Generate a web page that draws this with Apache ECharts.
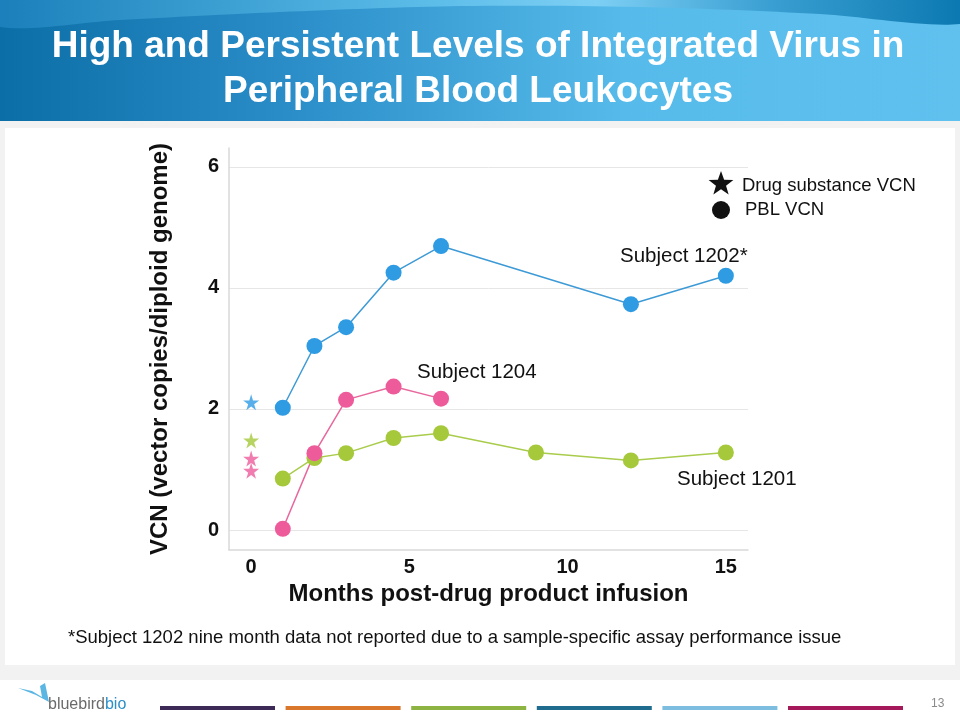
<!DOCTYPE html>
<html>
<head>
<meta charset="utf-8">
<script src="https://cdn.jsdelivr.net/npm/echarts@6/dist/echarts.min.js"></script>
<style>
html,body{margin:0;padding:0;background:#f2f2f2;}
#chart{width:960px;height:720px;}
</style>
</head>
<body>
<div id="chart"></div>
<script>
// ---- data ----
const months1202 = [1, 2, 3, 4.5, 6, 12, 15];
const vcn1202   = [2.02, 3.04, 3.35, 4.25, 4.69, 3.73, 4.20];
const months1204 = [1, 2, 3, 4.5, 6];
const vcn1204   = [0.02, 1.27, 2.15, 2.37, 2.17];
const months1201 = [1, 2, 3, 4.5, 6, 9, 12, 15];
const vcn1201   = [0.85, 1.19, 1.27, 1.52, 1.60, 1.28, 1.15, 1.28];
// drug substance VCN (month 0)
const dsMonths = [0, 0, 0, 0];
const dsVcn    = [2.11, 1.48, 1.18, 0.98];
const dsSubject = ['1202', '1201', '1204', '1204'];
const xTicks = [0, 5, 10, 15];
const yTicks = [0, 2, 4, 6];
const titleLines = ['High and Persistent Levels of Integrated Virus in', 'Peripheral Blood Leukocytes'];
const subjectLabels = ['Subject 1202*', 'Subject 1204', 'Subject 1201'];
const legendNames = ['Drug substance VCN', 'PBL VCN'];
const footnote = '*Subject 1202 nine month data not reported due to a sample-specific assay performance issue';

const colors = {'1202': '#2e9be3', '1204': '#ee5b9b', '1201': '#a5c93b'};
const lineColors = {'1202': '#3d9ad6', '1204': '#e8679d', '1201': '#a9cc4c'};
const STAR = 'path://M50,0 L61,35 L98,35 L68,57 L79,91 L50,70 L21,91 L32,57 L2,35 L39,35 Z';
const FONT = '"Liberation Sans", Arial, sans-serif';

function pairs(xs, ys){ return xs.map((x,i)=>[x, ys[i]]); }

function lineSeries(key, xs, ys){
  return {
    type: 'line', data: pairs(xs, ys), symbol: 'circle', symbolSize: 16,
    itemStyle: {color: colors[key]},
    lineStyle: {color: lineColors[key], width: 1.5},
    emphasis: {disabled: true}, z: 5
  };
}

function starPoints(cx, cy, R, r){
  const pts = [];
  for (let i = 0; i < 10; i++){
    const a = -Math.PI / 2 + i * Math.PI / 5;
    const rad = i % 2 === 0 ? R : r;
    pts.push([cx + rad * Math.cos(a), cy + rad * Math.sin(a)]);
  }
  return pts;
}

const chart = echarts.init(document.getElementById('chart'), null, {renderer: 'canvas'});

const footerColors = ['#3e2a56', '#d9782d', '#8db443', '#1f6c8f', '#7dbde0', '#a5195a'];
const footerBars = footerColors.map((c, i) => ({
  type: 'rect', shape: {x: 160 + i * 125.6, y: 706, width: 115, height: 4}, style: {fill: c}, silent: true
}));

const option = {
  animation: false,
  backgroundColor: '#f2f2f2',
  grid: {left: 229, right: 212, top: 148, bottom: 170},
  xAxis: {
    type: 'value', min: -0.7, max: 15.7,
    axisLine: {show: true, onZero: false, lineStyle: {color: '#d9d9d9', width: 1.5}},
    axisTick: {show: false},
    splitLine: {show: false},
    axisLabel: {customValues: xTicks, color: '#111', fontSize: 20, fontWeight: 'bold', fontFamily: FONT, margin: 7},
    name: 'Months post-drug product infusion', nameLocation: 'middle', nameGap: 28,
    nameTextStyle: {color: '#111', fontSize: 24, fontWeight: 'bold', fontFamily: FONT}
  },
  yAxis: {
    type: 'value', min: -0.33, max: 6.31,
    axisLine: {show: true, onZero: false, lineStyle: {color: '#d9d9d9', width: 1.5}},
    axisTick: {show: false, customValues: yTicks},
    splitLine: {show: true, lineStyle: {color: '#e6e6e6', width: 1}},
    axisLabel: {customValues: yTicks, color: '#111', fontSize: 20, fontWeight: 'bold', fontFamily: FONT, margin: 10},
    name: 'VCN (vector copies/diploid genome)', nameLocation: 'middle', nameGap: 57,
    nameTextStyle: {color: '#111', fontSize: 24, fontWeight: 'bold', fontFamily: FONT}
  },
  series: [
    lineSeries('1201', months1201, vcn1201),
    lineSeries('1204', months1204, vcn1204),
    lineSeries('1202', months1202, vcn1202),
    {
      type: 'scatter', symbol: STAR, symbolSize: 16,
      data: dsMonths.map((m, i) => ({value: [m, dsVcn[i]], itemStyle: {color: colors[dsSubject[i]]}})),
      emphasis: {disabled: true}, z: 6
    }
  ],
  graphic: [
    // white content panel
    {type: 'rect', shape: {x: 5, y: 128, width: 950, height: 537}, style: {fill: '#ffffff'}, z: -10, silent: true},
    // footer
    {type: 'rect', shape: {x: 0, y: 680, width: 960, height: 40}, style: {fill: '#ffffff'}, z: -10, silent: true},
    // banner
    {type: 'rect', shape: {x: 0, y: 0, width: 960, height: 121}, z: -9, silent: true,
      style: {fill: new echarts.graphic.LinearGradient(0, 0, 1, 0, [
        {offset: 0, color: '#0b6ea6'}, {offset: 0.3, color: '#2a8dc8'}, {offset: 0.65, color: '#56bbea'}, {offset: 1, color: '#60c1ef'}
      ])}},
    {type: 'polygon', z: -8, silent: true,
      shape: {points: [[0,0],[960,0],[960,24],[820,14],[640,7],[460,6],[280,12],[120,20],[0,27]], smooth: 0.3},
      style: {fill: new echarts.graphic.LinearGradient(0, 0, 1, 0, [
        {offset: 0, color: '#1a7fba'}, {offset: 0.45, color: '#5cbde9'}, {offset: 0.62, color: '#7dcff4'}, {offset: 0.8, color: '#3a9fd2'}, {offset: 1, color: '#0a78b0'}
      ])}},
    {type: 'text', x: 478, y: 24, z: 10, silent: true,
      style: {text: titleLines.join('\n'), fill: '#ffffff', font: 'bold 37px ' + FONT, align: 'center', lineHeight: 45}},
    // legend
    {type: 'polygon', z: 10, silent: true, shape: {points: starPoints(721, 184, 13, 5.3)}, style: {fill: '#111'}},
    {type: 'text', z: 10, silent: true, x: 742, y: 176, style: {text: legendNames[0], fill: '#111', font: '18.5px ' + FONT}},
    {type: 'circle', z: 10, silent: true, shape: {cx: 721, cy: 210, r: 9}, style: {fill: '#111'}},
    {type: 'text', z: 10, silent: true, x: 745, y: 200, style: {text: legendNames[1], fill: '#111', font: '18.5px ' + FONT}},
    // subject labels
    {type: 'text', z: 10, silent: true, x: 620, y: 246, style: {text: subjectLabels[0], fill: '#111', font: '20.5px ' + FONT}},
    {type: 'text', z: 10, silent: true, x: 417, y: 362, style: {text: subjectLabels[1], fill: '#111', font: '20.5px ' + FONT}},
    {type: 'text', z: 10, silent: true, x: 677, y: 469, style: {text: subjectLabels[2], fill: '#111', font: '20.5px ' + FONT}},
    // footnote
    {type: 'text', z: 10, silent: true, x: 68, y: 628, style: {text: footnote, fill: '#111', font: '18.5px ' + FONT}},
    // logo
    {type: 'polygon', z: 10, silent: true, shape: {points: [[18,688],[32,691],[42,697],[40,686],[45,683],[49,702],[36,695]]},
      style: {fill: '#5bb6e3'}},
    {type: 'text', z: 10, silent: true, x: 48, y: 697, style: {
      text: '{a|bluebird}{b|bio}',
      rich: {a: {fill: '#6b6b6b', font: '16px ' + FONT}, b: {fill: '#2c8fc9', font: '16px ' + FONT}}}},
    {type: 'text', z: 10, silent: true, x: 931, y: 698, style: {text: '13', fill: '#8a8a8a', font: '12px ' + FONT}}
  ].concat(footerBars)
};
chart.setOption(option);
</script>
</body>
</html>
